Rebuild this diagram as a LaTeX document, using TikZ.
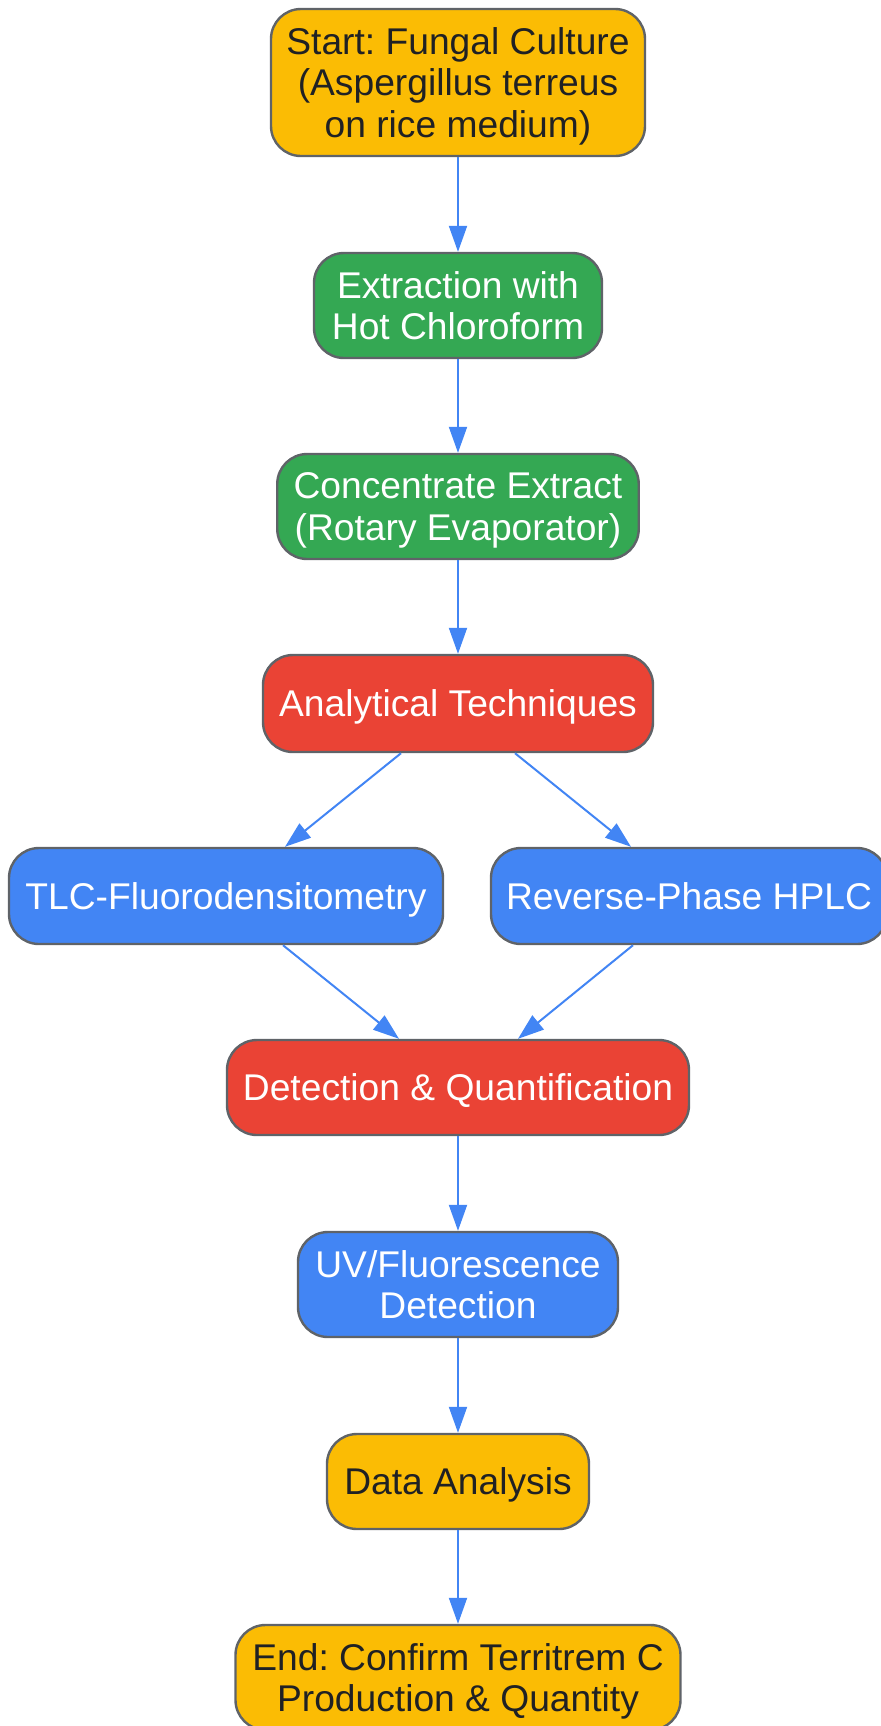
\documentclass[tikz,border=0pt]{standalone}
\usepackage{fontspec}
\setmainfont{Liberation Sans}
\frenchspacing
\definecolor{gyellow}{HTML}{FBBC04}
\definecolor{ggreen}{HTML}{34A853}
\definecolor{gred}{HTML}{EA4335}
\definecolor{gblue}{HTML}{4285F4}
\definecolor{gborder}{HTML}{5F6368}
\definecolor{gtext}{HTML}{202124}
\usepackage{tikz}
\usetikzlibrary{shapes, arrows.meta, positioning, calc}

\begin{document}
\begin{tikzpicture}[
  box/.style={draw=gborder, line width=1.2pt, rounded corners=15pt, align=center, inner sep=0pt, text depth=0pt, font=\fontsize{18.6}{20.7}\selectfont},
  startend/.style={box, fill=gyellow, text=gtext},
  prep/.style={box, fill=ggreen, text=white},
  stage/.style={box, fill=gred, text=white},
  method/.style={box, fill=gblue, text=white},
  flow/.style={draw=gblue, line width=1pt, -{Triangle[length=13pt, width=9pt]}}
]
  \useasboundingbox (0,0) rectangle (440.5pt,-863pt);
  \clip (0,0) rectangle (440.5pt,-863pt);

  \node[startend, minimum width=187pt, minimum height=73.5pt] (culture) at (229pt,-41.25pt) {Start: Fungal Culture\\(Aspergillus terreus\\on rice medium)};
  \node[prep, minimum width=144pt, minimum height=52.5pt] (extract) at (229pt,-152.75pt) {Extraction with\\Hot Chloroform};
  \node[prep, minimum width=180.75pt, minimum height=52.5pt] (concentrate) at (229pt,-253.25pt) {Concentrate Extract\\(Rotary Evaporator)};
  \node[stage, minimum width=195pt, minimum height=48.5pt] (analysis) at (229pt,-351.75pt) {Analytical Techniques};
  \node[method, minimum width=217pt, minimum height=48pt] (tlc) at (113pt,-448pt) {TLC-Fluorodensitometry};
  \node[method, minimum width=198pt, minimum height=48pt] (hplc) at (344.5pt,-448pt) {Reverse-Phase HPLC};
  \node[stage, minimum width=231pt, minimum height=47.5pt] (detect) at (229pt,-543.75pt) {Detection \& Quantification};
  \node[method, minimum width=160pt, minimum height=52.5pt] (uv) at (229pt,-642.25pt) {UV/Fluorescence\\Detection};
  \node[startend, minimum width=131pt, minimum height=47.5pt] (data) at (229pt,-740.75pt) {Data Analysis};
  \node[startend, minimum width=222.5pt, minimum height=52.5pt] (confirm) at (229pt,-838.75pt) {End: Confirm Territrem C\\Production \& Quantity};

  \draw[flow] (culture.south) -- (extract.north);
  \draw[flow] (extract.south) -- (concentrate.north);
  \draw[flow] (concentrate.south) -- (analysis.north);
  \draw[flow] ([xshift=-28.5pt]analysis.south) -- ([xshift=29.5pt]tlc.north);
  \draw[flow] ([xshift=28.5pt]analysis.south) -- ([xshift=-29pt]hplc.north);
  \draw[flow] ([xshift=28.5pt]tlc.south) -- ([xshift=-29.5pt]detect.north);
  \draw[flow] ([xshift=-28pt]hplc.south) -- ([xshift=30pt]detect.north);
  \draw[flow] (detect.south) -- (uv.north);
  \draw[flow] (uv.south) -- (data.north);
  \draw[flow] (data.south) -- (confirm.north);
\end{tikzpicture}
\end{document}
